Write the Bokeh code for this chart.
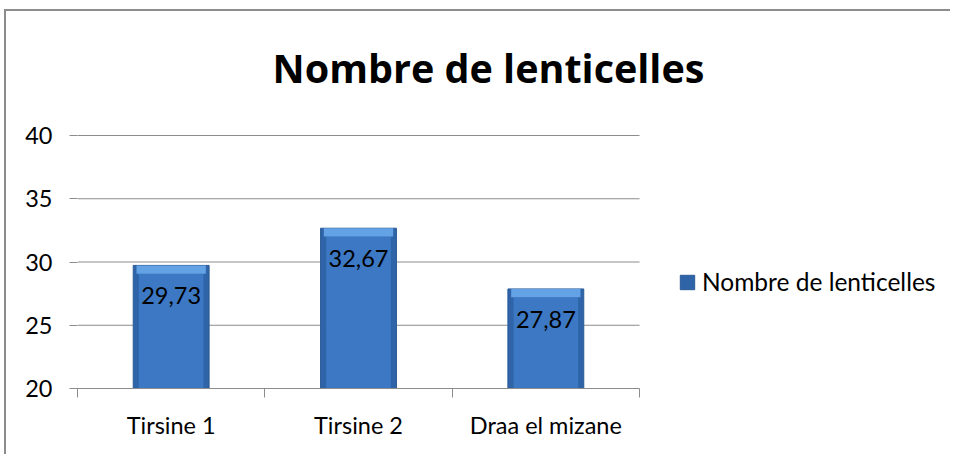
from bokeh.plotting import figure
from bokeh.models import (ColumnDataSource, FixedTicker, Range1d, Legend, LegendItem, Label)
from bokeh.core.properties import value
from bokeh.embed import file_html
from bokeh.resources import INLINE

categories = ["Tirsine 1", "Tirsine 2", "Draa el mizane"]
values = [29.73, 32.67, 27.87]
y_ticks = [20, 25, 30, 35, 40]
series_name = "Nombre de lenticelles"
title_text = "Nombre de lenticelles"

FONT = "Lato"
TITLE_FONT = "Open Sans"
GRID = "#8c8c8c"
FS = "23.5px"

# layout (pixels)
W, H = 946, 445
LEFT, BOTTOM = 71, 68
CAT_PX = 562          # width of the category area
VAL_PX = 253          # height of the value area (20 -> 40)
frame_w = W - LEFT
frame_h = H - BOTTOM
n = len(categories)
x_end = n * frame_w / CAT_PX
y0, y1 = y_ticks[0], y_ticks[-1]
y_end = y0 + (y1 - y0) * frame_h / VAL_PX
px_x = CAT_PX / n
px_y = VAL_PX / (y1 - y0)

xs = [i + 0.5 for i in range(n)]
labels = [f"{v:.2f}".replace(".", ",") for v in values]
base = [y0] * n
bevel_bottom = [v - 0.65 for v in values]

src = ColumnDataSource(dict(x=xs, top=values, bottom=base, label=labels,
                            bevel_bottom=bevel_bottom))
grid_src = ColumnDataSource(dict(x0=[0] * len(y_ticks), x1=[n] * len(y_ticks),
                                 y=y_ticks))

p = figure(width=W, height=H, output_backend="svg", toolbar_location=None,
           x_range=Range1d(0, x_end), y_range=Range1d(y0, y_end),
           min_border_left=LEFT, min_border_right=0, min_border_top=0,
           min_border_bottom=BOTTOM)
p.styles = {"margin-left": "4px", "margin-top": "9px",
            "border-left": "2px solid #8c8c8c", "border-top": "2px solid #8c8c8c"}
p.outline_line_color = None
p.background_fill_color = "white"
p.border_fill_color = "white"

# horizontal gridlines limited to the category area
p.segment(x0="x0", x1="x1", y0="y", y1="y", source=grid_src,
          line_color=GRID, line_width=1)

# bars: body, inner lighter face, top bevel
body = p.vbar(x="x", top="top", bottom="bottom", width=0.405, source=src,
              fill_color="#2f64a8", line_color="#2a5a96", line_width=1)
p.vbar(x="x", top="bevel_bottom", bottom="bottom", width=0.345, source=src,
       fill_color="#3c78c3", line_color=None)
p.vbar(x="x", top="top", bottom="bevel_bottom", width=0.37, source=src,
       fill_color="#64a2e6", line_color=None)

p.text(x="x", y="top", text="label", source=src, text_align="center",
       text_baseline="top", y_offset=22, text_font=value(FONT),
       text_font_size=FS, text_color="black")

# title (centred at page x~488, above the 40 line)
title = Label(x=(488 - 77) / px_x, y=y1 + 68 / px_y, text=title_text,
              text_align="center", text_baseline="alphabetic",
              text_font=TITLE_FONT, text_font_size="39.5px",
              text_font_style="bold", text_color="black")
p.add_layout(title)

# y axis
p.yaxis.bounds = (y0, y1)
p.yaxis.ticker = FixedTicker(ticks=y_ticks, minor_ticks=[])
p.yaxis.axis_line_color = None
p.yaxis.major_tick_out = 8
p.yaxis.major_tick_in = 0
p.yaxis.major_tick_line_color = GRID
p.yaxis.minor_tick_line_color = None
p.yaxis.major_label_standoff = 17
p.yaxis.major_label_text_font = FONT
p.yaxis.major_label_text_font_size = FS
p.yaxis.major_label_text_color = "black"

# x axis
p.xaxis.bounds = (0, n)
p.xaxis.ticker = FixedTicker(ticks=xs, minor_ticks=list(range(n + 1)))
p.xaxis.major_label_overrides = {x: c for x, c in zip(xs, categories)}
p.xaxis.axis_line_color = GRID
p.xaxis.major_tick_out = 0
p.xaxis.major_tick_in = 0
p.xaxis.minor_tick_out = 9
p.xaxis.minor_tick_in = 0
p.xaxis.minor_tick_line_color = GRID
p.xaxis.major_label_standoff = 13
p.xaxis.major_label_text_font = FONT
p.xaxis.major_label_text_font_size = FS
p.xaxis.major_label_text_color = "black"

p.xgrid.grid_line_color = None
p.ygrid.grid_line_color = None

legend = Legend(items=[LegendItem(label=series_name, renderers=[body])],
                location=(601, 92), orientation="vertical",
                glyph_width=18, glyph_height=18, label_standoff=6,
                padding=0, margin=0, border_line_color=None,
                background_fill_alpha=0,
                label_text_font=FONT, label_text_font_size="24.5px",
                label_text_color="black")
p.add_layout(legend, "center")

open("out.html", "w").write(file_html(p, INLINE))
